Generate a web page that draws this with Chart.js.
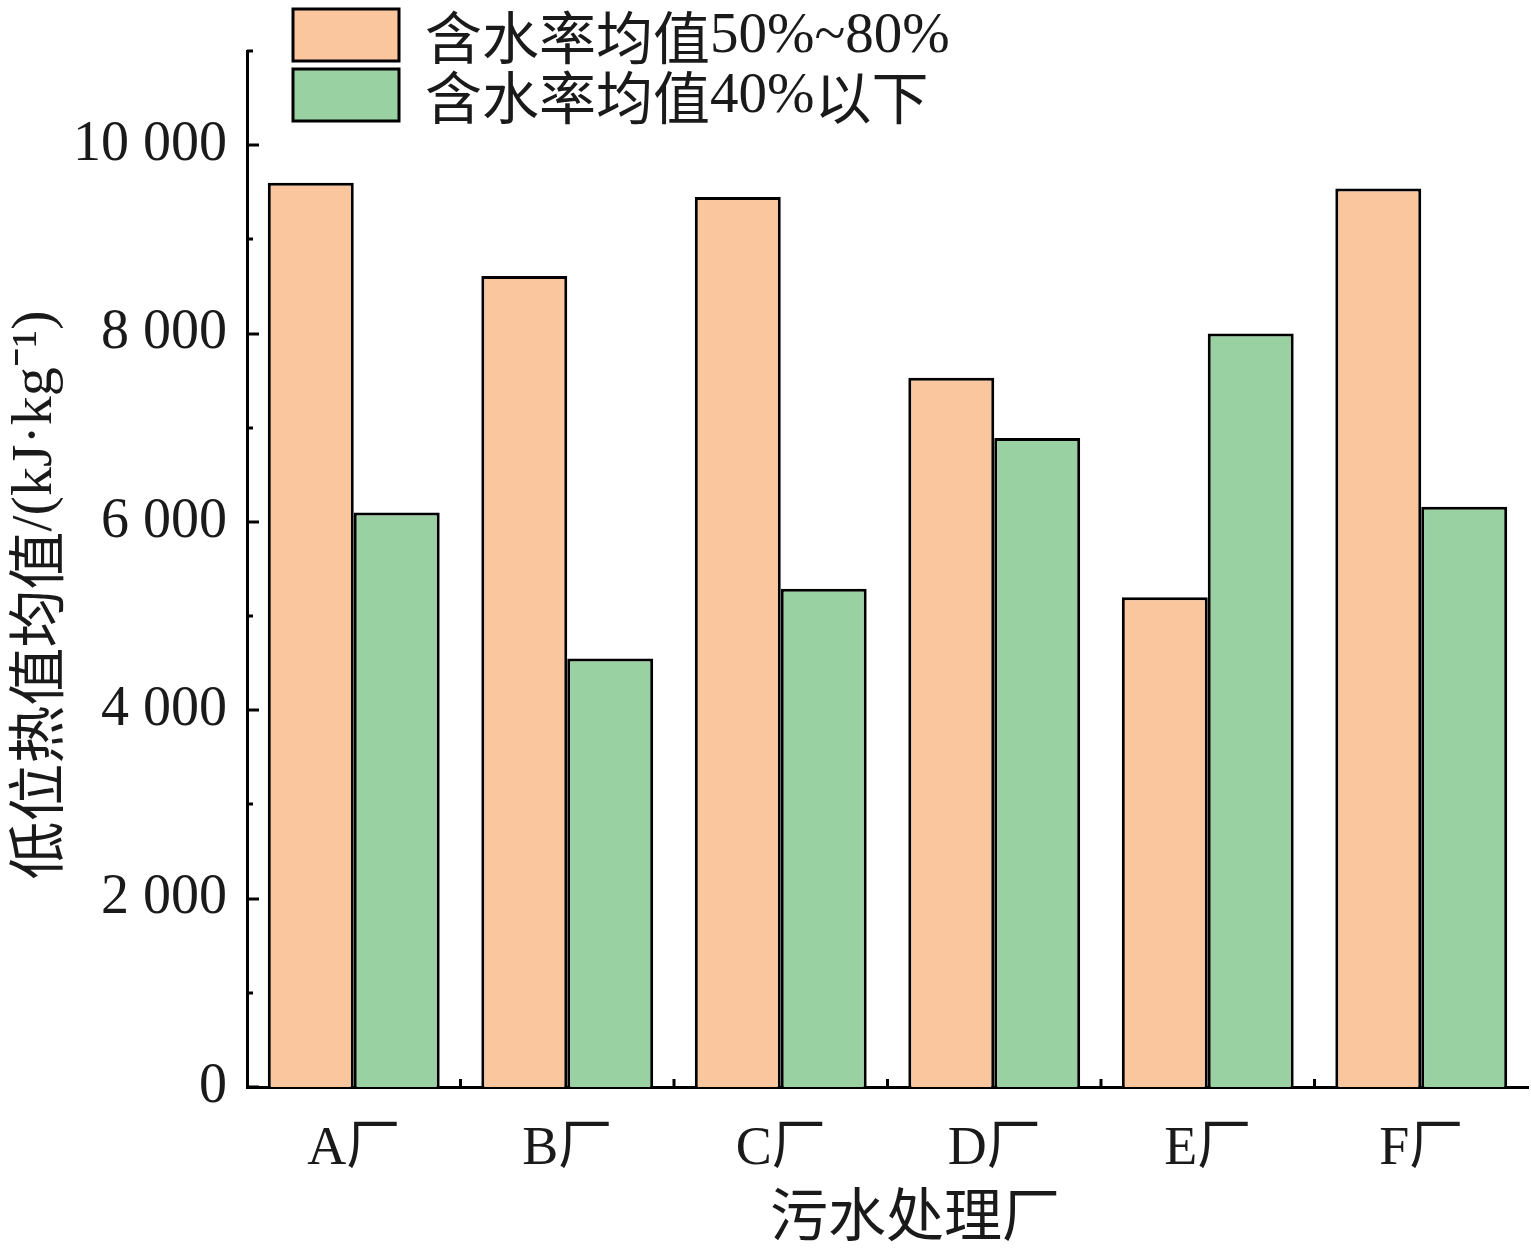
<!DOCTYPE html>
<html>
<head>
<meta charset="utf-8">
<script src="https://cdn.jsdelivr.net/npm/chart.js@4.4.1/dist/chart.umd.min.js"></script>
<style>
  html, body { margin: 0; padding: 0; background: #fff; }
  #wrap { width: 1531px; height: 1248px; }
</style>
</head>
<body>
<div id="wrap"><canvas id="chart"></canvas></div>
<script>
// Datos
const plants = ['A厂', 'B厂', 'C厂', 'D厂', 'E厂', 'F厂'];
const wetValues = [9600, 8610, 9450, 7530, 5200, 9540];   // 含水率均值50%~80%
const dryValues = [6100, 4550, 5290, 6890, 8000, 6160];   // 含水率均值40%以下
const seriesNames = ['含水率均值50%~80%', '含水率均值40%以下'];
const yTicks = [0, 2000, 4000, 6000, 8000, 10000];
const xTitle = '污水处理厂';
const yTitle = '低位热值均值/(kJ·kg⁻¹)';

const serif = '"Liberation Serif", "Noto Sans CJK SC", serif';

// Dibuja texto mezclando fuente CJK y serif latina
function drawMixed(ctx, text, x, y, size, align) {
    const parts = text.match(/[\u3400-\u9fff]+|[^\u3400-\u9fff]+/g) || [];
    const fontFor = p => /[\u3400-\u9fff]/.test(p)
        ? 'normal ' + size + 'px "Noto Sans CJK SC"'
        : 'normal ' + size + 'px "Liberation Serif"';
    let total = 0;
    parts.forEach(p => { ctx.font = fontFor(p); total += ctx.measureText(p).width; });
    let cx = align === 'center' ? x - total / 2 : x;
    ctx.textAlign = 'left';
    parts.forEach(p => {
        ctx.font = fontFor(p);
        ctx.fillText(p, cx, y);
        cx += ctx.measureText(p).width;
    });
}

// Ticks hacia dentro, títulos y leyenda apilada
const customDraw = {
    id: 'customDraw',
    afterDraw(chart) {
        const ctx = chart.ctx;
        const x = chart.scales.x;
        const y = chart.scales.y;
        const area = chart.chartArea;
        ctx.save();
        ctx.strokeStyle = '#000';
        ctx.lineWidth = 3;
        // eje y
        for (let v = 0; v <= 11000; v += 1000) {
            const py = Math.round(y.getPixelForValue(v));
            const len = yTicks.includes(v) ? 12 : 6;
            ctx.beginPath();
            ctx.moveTo(area.left, py);
            ctx.lineTo(area.left + len, py);
            ctx.stroke();
        }
        // eje x (límites de categoría)
        for (let i = 1; i < plants.length; i++) {
            const px = (x.getPixelForValue(i - 1) + x.getPixelForValue(i)) / 2;
            ctx.beginPath();
            ctx.moveTo(px, area.bottom);
            ctx.lineTo(px, area.bottom - 8);
            ctx.stroke();
        }
        ctx.fillStyle = '#1a1a1a';
        ctx.textBaseline = 'middle';
        // títulos
        drawMixed(ctx, xTitle, 915, 1214, 58, 'center');
        ctx.save();
        ctx.translate(36, 595);
        ctx.rotate(-Math.PI / 2);
        drawMixed(ctx, yTitle, 0, 0, 58, 'center');
        ctx.restore();
        // leyenda
        chart.data.datasets.forEach((d, i) => {
            const top = 9 + i * 60;
            ctx.fillStyle = d.backgroundColor;
            ctx.fillRect(293, top, 106, 52);
            ctx.strokeRect(293, top, 106, 52);
            ctx.fillStyle = '#1a1a1a';
            drawMixed(ctx, d.label, 425, top + 28, 57, 'left');
        });
        ctx.restore();
    }
};

new Chart(document.getElementById('chart'), {
    type: 'bar',
    data: {
        labels: plants,
        datasets: [
            {
                label: seriesNames[0],
                data: wetValues,
                backgroundColor: '#F9C69D',
                borderColor: '#000',
                borderWidth: 3,
                categoryPercentage: 0.805,
                barPercentage: 1
            },
            {
                label: seriesNames[1],
                data: dryValues,
                backgroundColor: '#9AD1A3',
                borderColor: '#000',
                borderWidth: 3,
                categoryPercentage: 0.805,
                barPercentage: 1
            }
        ]
    },
    options: {
        responsive: true,
        maintainAspectRatio: false,
        animation: false,
        devicePixelRatio: 1,
        layout: { padding: { top: 51, right: 3, left: 0, bottom: 0 } },
        plugins: {
            legend: { display: false },
            tooltip: { enabled: false }
        },
        scales: {
            x: {
                grid: { display: false, drawTicks: false },
                border: { color: '#000', width: 3 },
                ticks: {
                    color: '#1a1a1a',
                    font: { family: serif, size: 54 },
                    padding: 30
                },
                afterFit(scale) {
                    scale.height = 161;
                    scale.paddingLeft = 0;
                    scale.paddingRight = 0;
                }
            },
            y: {
                min: 0,
                max: 11000,
                grid: { display: false, drawTicks: false },
                border: { color: '#000', width: 3 },
                afterBuildTicks(scale) {
                    scale.ticks = yTicks.map(v => ({ value: v }));
                },
                ticks: {
                    color: '#1a1a1a',
                    font: { family: serif, size: 56 },
                    padding: 20,
                    callback: v => String(v).replace(/\B(?=(\d{3})+(?!\d))/g, ' ')
                },
                afterFit(scale) {
                    scale.width = 247;
                    scale.paddingTop = 0;
                    scale.paddingBottom = 0;
                }
            }
        }
    },
    plugins: [customDraw]
});
</script>
</body>
</html>
